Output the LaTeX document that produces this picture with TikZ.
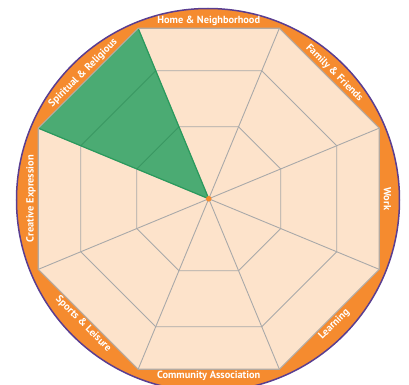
\documentclass[tikz,border=0pt]{standalone}
\usepackage{fontspec}
\setmainfont{PT Sans}
\definecolor{ringorange}{HTML}{F58B2F}
\definecolor{rimpurple}{HTML}{5A3E91}
\definecolor{peach}{HTML}{FDE3CB}
\definecolor{gridgray}{HTML}{A9A9A9}
\definecolor{edgegray}{HTML}{B3AAA2}
\definecolor{wedgegreen}{HTML}{4BAB73}
\definecolor{wedgeedge}{HTML}{2A9A5C}
\definecolor{wedgegrid}{HTML}{3A9762}
\begin{document}
\begin{tikzpicture}[x=1bp,y=1bp,
  lbl/.style={text=white,font=\bfseries\fontsize{10.4}{12}\selectfont,anchor=mid,inner sep=0pt},
  gridline/.style={draw=gridgray,line width=0.9bp},
  greengrid/.style={draw=wedgegrid,line width=0.9bp}]
\useasboundingbox (0,0) rectangle (409,385);
\clip (0,0) rectangle (409,385);
\coordinate (O) at (208.75,186.25);
\coordinate (C) at (208,185);
% outer disc
\fill[ringorange] (C) circle (191.5);
\draw[rimpurple,line width=1.5bp] (C) circle (191.5);
% octagon
\begin{scope}[shift={(O)}]
\fill[peach] (22.5:184.55) \foreach \a in {67.5,112.5,...,337.5}{ -- (\a:184.55)} -- cycle;
% rings and spokes
\foreach \r in {138.55,77.93}{
  \draw[gridline] (22.5:\r) \foreach \a in {67.5,112.5,...,337.5}{ -- (\a:\r)} -- cycle;
}
\foreach \a in {22.5,67.5,...,337.5}{
  \draw[gridline] (0,0) -- (\a:184.55);
}
% green wedge
\fill[wedgegreen] (0,0) -- (112.5:184.55) -- (157.5:184.55) -- cycle;
\begin{scope}
\clip (0,0) -- (112.5:184.55) -- (157.5:184.55) -- cycle;
\foreach \r in {138.55,77.93}{
  \draw[greengrid] (22.5:\r) \foreach \a in {67.5,112.5,...,337.5}{ -- (\a:\r)} -- cycle;
}
\end{scope}
\draw[wedgeedge,line width=1.2bp,line join=round] (157.5:184.55) -- (0,0) -- (112.5:184.55);
% octagon border
\draw[edgegray,line width=1.2bp] (22.5:184.55) \foreach \a in {67.5,112.5,...,337.5}{ -- (\a:184.55)} -- cycle;
% labels
\node[lbl,rotate=0]   (home)  at (90:177.5)   {Home \& Neighborhood};
\node[lbl,rotate=-45] (fam)   at (45:177.5)   {Family \& Friends};
\node[lbl,rotate=-90] (work)  at (0:177.5)    {Work};
\node[lbl,rotate=45]  (learn) at (-45:177.5)  {Learning};
\node[lbl,rotate=0]   (comm)  at (-90:177.5)  {Community Association};
\node[lbl,rotate=-45] (sport) at (-135:177.5) {Sports \& Leisure};
\node[lbl,rotate=90]  (creat) at (180:177.5)  {Creative Expression};
\node[lbl,rotate=45]  (spir)  at (135:177.5)  {Spiritual \& Religious};
% centre dot
\fill[ringorange] (0,0) circle (2.8);
\end{scope}
\end{tikzpicture}
\end{document}
